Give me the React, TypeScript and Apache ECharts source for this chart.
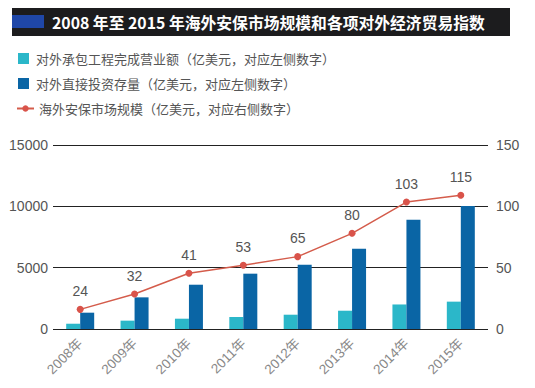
import React, { useEffect, useRef } from "react";
import * as echarts from "echarts";

const categories = ["2008年", "2009年", "2010年", "2011年", "2012年", "2013年", "2014年", "2015年"];
const contractRevenue = [430, 680, 840, 980, 1165, 1490, 2000, 2230];
const fdiStock = [1330, 2580, 3610, 4510, 5240, 6550, 8910, 10030];
const securityMarket = [16, 28.5, 45.5, 52, 59, 78, 103.5, 109];
const securityLabels = ["24", "32", "41", "53", "65", "80", "103", "115"];
const leftTicks = [0, 5000, 10000, 15000];
const rightTicks = [0, 50, 100, 150];
const seriesNames = [
  "对外承包工程完成营业额（亿美元，对应左侧数字）",
  "对外直接投资存量（亿美元，对应左侧数字）",
  "海外安保市场规模（亿美元，对应右侧数字）",
];
const titleText = "2008 年至 2015 年海外安保市场规模和各项对外经济贸易指数";

const FONT = '"Noto Sans CJK SC", "Noto Sans", sans-serif';
const NUMFONT = '"Liberation Sans", "Noto Sans CJK SC", sans-serif';

export default function App() {
  const ref = useRef<HTMLDivElement>(null);
  useEffect(() => {
    if (!ref.current) return;
    const chart = echarts.init(ref.current, null, { renderer: "svg" });
    chart.setOption({
      animation: false,
      backgroundColor: "#ffffff",
      textStyle: { fontFamily: FONT },
      graphic: [
        { type: "rect", shape: { x: 12, y: 8, width: 498, height: 28 }, style: { fill: "#1c1c1e" } },
        { type: "rect", shape: { x: 12, y: 15, width: 32, height: 13 }, style: { fill: "#1f47a8" } },
        {
          type: "text",
          x: 52,
          y: 22,
          style: {
            text: titleText,
            fill: "#ffffff",
            font: `bold 15.8px ${FONT}`,
            verticalAlign: "middle",
          },
        },
      ],
      legend: [
        {
          orient: "vertical",
          left: 13,
          top: 47,
          itemWidth: 11,
          itemHeight: 11,
          itemGap: 12,
          textStyle: { fontSize: 13, color: "#555", fontFamily: FONT, padding: [0, 0, 0, 2] },
          data: [
            { name: seriesNames[0], icon: "rect" },
            { name: seriesNames[1], icon: "rect" },
          ],
        },
        {
          orient: "vertical",
          left: 11,
          top: 97,
          itemWidth: 17,
          itemHeight: 8,
          textStyle: { fontSize: 13, color: "#555", fontFamily: FONT, padding: [0, 0, 0, 0] },
          data: [{ name: seriesNames[2] }],
        },
      ],
      grid: { left: 53, right: 47, top: 145, bottom: 59, containLabel: false },
      xAxis: {
        type: "category",
        data: categories,
        axisLine: { show: false },
        axisTick: { show: false },
        axisLabel: { rotate: 45, color: "#888", fontSize: 13.5, margin: 12, fontFamily: NUMFONT },
      },
      yAxis: [
        {
          type: "value",
          min: leftTicks[0],
          max: leftTicks[leftTicks.length - 1],
          interval: 5000,
          axisLine: { show: false },
          axisTick: { show: false },
          axisLabel: { color: "#555", fontSize: 14, margin: 5, fontFamily: NUMFONT, formatter: (v: number) => String(v) },
          splitLine: { lineStyle: { color: "#222", width: 1 } },
        },
        {
          type: "value",
          min: rightTicks[0],
          max: rightTicks[rightTicks.length - 1],
          interval: 50,
          axisLine: { show: false },
          axisTick: { show: false },
          axisLabel: { color: "#555", fontSize: 14, margin: 8, fontFamily: NUMFONT, formatter: (v: number) => String(v) },
          splitLine: { show: false },
        },
      ],
      series: [
        {
          name: seriesNames[0],
          type: "bar",
          data: contractRevenue,
          barWidth: 14,
          barGap: "0%",
          itemStyle: { color: "#2bb7c9" },
        },
        {
          name: seriesNames[1],
          type: "bar",
          data: fdiStock,
          barWidth: 14,
          barGap: "0%",
          itemStyle: { color: "#0a65a5" },
        },
        {
          name: seriesNames[2],
          type: "line",
          yAxisIndex: 1,
          data: securityMarket,
          symbol: "circle",
          symbolSize: 7,
          lineStyle: { color: "#d45c4b", width: 1.5 },
          itemStyle: { color: "#d9534a" },
          label: {
            show: true,
            position: "top",
            distance: 8,
            fontSize: 14,
            color: "#555",
            fontFamily: NUMFONT,
            formatter: (p: any) => securityLabels[p.dataIndex],
          },
        },
      ],
    });
    return () => chart.dispose();
  }, []);
  return <div ref={ref} style={{ width: 535, height: 388, position: "absolute", left: 0, top: 0 }} />;
}
